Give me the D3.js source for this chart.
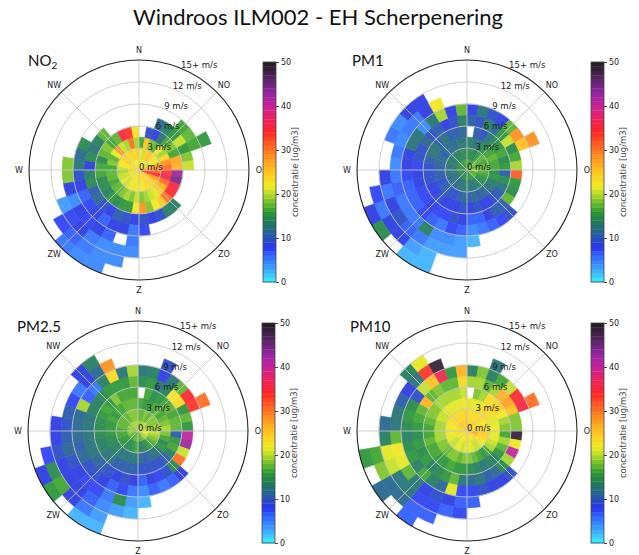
<!DOCTYPE html>
<html>
<head>
<meta charset="utf-8">
<script src="https://cdn.jsdelivr.net/npm/d3@7"></script>
<style>
  body { margin: 0; background: #fff; }
  text { font-family: "DejaVu Sans", sans-serif; fill: #222; }
</style>
</head>
<body>
<svg id="chart" width="639" height="555"></svg>
<script>
// Wind speed rings and labels
const speedTicks = [0, 3, 6, 9, 12, 15];
const speedTickLabels = ["0 m/s", "3 m/s", "6 m/s", "9 m/s", "12 m/s", "15+ m/s"];
// Compass labels (Dutch), clockwise from north every 45 degrees
const directionLabels = ["N", "NO", "O", "ZO", "Z", "ZW", "W", "NW"];
// Colour bar ticks (ug/m3)
const colorTicks = [0, 10, 20, 30, 40, 50];

const binWidth = 1.5;     // m/s per radial bin
const sectorWidth = 10;   // degrees per wind-direction sector

// Mean concentration per sector (36 x 10 deg, from north, clockwise) and speed bin (1.5 m/s)
const no2 = [
  [23, 22, 16, null],
  [22, 20, 25, 9],
  [21, 24, 18, 8, 11],
  [22, 25, 17, 12, 13],
  [21, 23, 22, 16, 15, 16],
  [20, 22, 19, 18, 20, 17],
  [23, 21, 23, 16, 15, 16, 15],
  [25, 26, 28, 27, 18],
  [26, 28, 30, 26, 20],
  [28, 30, 33, 42],
  [35, 34, 36, 44],
  [30, 28, 30, 35],
  [23, 25, 26, 34],
  [23, 23, 24, 30, 13],
  [23, 23, 21, 24, 13],
  [23, 23, 20, 22, 9],
  [23, 22, 19, 18, 8],
  [24, 22, 18, 28, 9, 7],
  [23, 22, 20, 22, 8, 5, 5, 4],
  [22, 21, 18, 15, 9, 8, null, 4, 4],
  [23, 22, 19, 15, 10, 8, 6, 4, 4, 4],
  [22, 21, 18, 14, 8, 6, 8, 5, 5, 4],
  [22, 20, 17, 15, 9, 8, 7, 8, 6, 5],
  [21, 21, 17, 13, 11, 7, 8, 7, 7],
  [21, 20, 16, 14, 10, 6, 4, 3],
  [22, 20, 17, 14, 14, 8, 8],
  [23, 19, 17, 16, 13, 9, 18],
  [23, 20, 16, 16, 8, 12, 18],
  [23, 22, 18, 14, 14, 11],
  [23, 22, 17, 17, 12, 14],
  [23, 24, 21, 18, 13],
  [22, 24, 28, 16, 17],
  [22, 23, 20, 17],
  [22, 24, 19, 35],
  [22, 23, 30, 33],
  [22, 24, 19, 22]
];

const pm1 = [
  [15, 14, 13, null, 10, 8],
  [16, 14, 12, 10, 9, 12],
  [15, 13, 12, 9, 13, 9],
  [16, 15, 14, 12, 11, 8],
  [17, 16, 15, 14, 15, 17],
  [18, 17, 16, 15, 20, 28],
  [17, 16, 17, 16, 14, 25, 28],
  [16, 17, 16, 14, 16],
  [18, 17, 16, 15, 19],
  [20, 17, 14, 10, 31],
  [17, 16, 15, 14, 15],
  [16, 15, 13, 12, 14],
  [17, 14, 12, 10, 17],
  [16, 14, 11, 9, 10, 9],
  [15, 13, 11, 8, 10, 7],
  [15, 12, 10, 8, 8, 6],
  [14, 12, 11, 9, 6, 5],
  [15, 12, 10, 8, 6, 4, 2],
  [15, 13, 11, 9, 8, 6, 3, 3],
  [14, 12, 10, 8, 9, 7, 4, 3],
  [14, 12, 9, 8, 7, 5, 4, 3, 2, 2],
  [13, 11, 9, 8, 7, 6, 13, 5, 3, 2],
  [13, 11, 10, 9, 8, 7, 5, 6, 8, null],
  [14, 12, 10, 8, 7, 6, 5, 9, 8, 14],
  [13, 11, 9, 8, 7, 6, 5, 8, 5, 8],
  [14, 12, 10, 9, 8, 6, 6, 5, 7],
  [14, 12, 10, 9, 8, 7, 5, 8],
  [15, 12, 10, 9, 7, 8, 4],
  [14, 12, 11, 10, 9, 8, 5],
  [15, 13, 11, 12, 9, 12, 4, 5],
  [14, 12, 10, 12, 11, 12, 5, 4],
  [15, 13, 11, 10, 9, 4, 5, 8],
  [15, 13, 11, 12, 10, 12, 8, 8],
  [15, 13, 11, 10, 8, 19, 22],
  [16, 14, 12, 10, 9, 8],
  [15, 14, 12, 11, 13, 17]
];

const pm25 = [
  [18, 17, 16, null, 14, 12],
  [18, 17, 15, 16, 15, 13],
  [19, 18, 15, 14, 12, 8, 9],
  [19, 17, 16, 15, 13, 12],
  [20, 18, 17, 16, 22, 17],
  [19, 18, 16, 17, 23, 34],
  [19, 18, 17, 16, 15, 33, 30],
  [20, 19, 18, 17, 17],
  [19, 18, 19, 17, 15],
  [22, 20, 18, 10, 40],
  [21, 19, 16, 15, 42],
  [20, 18, 14, 16, 20],
  [19, 17, 15, 13, 30],
  [19, 16, 12, 10, 14, 8],
  [18, 15, 12, 9, 9, 6],
  [17, 14, 11, 9, 7, 5],
  [17, 13, 10, 9, 8, 6],
  [16, 13, 11, 9, 6, 4, 2],
  [18, 16, 12, 10, 8, 5, 3, 2],
  [17, 15, 12, 10, 9, 7, 14, 3],
  [17, 14, 12, 10, 8, 6, 5, 4, 3, 2],
  [16, 14, 12, 10, 9, 8, 7, 6, 5, 2],
  [16, 14, 13, 12, 10, 9, 7, 8, 8, null],
  [17, 15, 13, 12, 11, 9, 8, 8, 16, 15],
  [17, 15, 14, 13, 12, 11, 9, 8, 14, 8],
  [18, 16, 14, 13, 12, 10, 11, 9, 7],
  [18, 16, 15, 14, 12, 11, 10, 8],
  [18, 16, 15, 14, 12, 11, 9, 8],
  [18, 17, 15, 14, 12, 11, 10],
  [19, 17, 16, 15, 13, 19, 7],
  [18, 17, 15, 16, 13, 6, 5],
  [18, 17, 16, 15, 14, 5, 8, 8],
  [19, 17, 16, 18, 15, 13, 11, 13],
  [19, 18, 17, 16, 15, 23, 28],
  [19, 18, 17, 16, 15, 12],
  [19, 18, 17, 16, 17, 19]
];

const pm10 = [
  [24, 23, 21, null, 19, 13],
  [24, 23, 21, 18, 19, 18],
  [24, 23, 21, 19, 17, 13, 12],
  [24, 23, 23, 23, 19, 16],
  [24, 23, 23, 23, 26, 20],
  [23, 23, 23, 24, 27, 34],
  [23, 22, 21, 22, 25, 35, 30],
  [24, 23, 21, 19, 18],
  [24, 22, 22, 18, 18],
  [26, 24, 21, 16, 48],
  [27, 24, 21, 19, 22],
  [25, 23, 20, 17, 40],
  [24, 22, 19, 15, 19],
  [23, 21, 16, 13, 14, 9],
  [22, 20, 15, 13, 11, 8],
  [22, 20, 16, 12, 10, 8],
  [23, 21, 17, 13, 12, 9],
  [23, 21, 18, 14, 11, 7, 6],
  [23, 21, 18, 15, 12, 7, 6, 7],
  [22, 20, 17, 15, 17, 21, 8, 6],
  [22, 21, 18, 16, 15, 11, 9, 7, 6],
  [22, 21, 18, 15, 14, 13, 8, 7, 6, 6],
  [21, 20, 17, 15, 13, 16, 12, 12, 11, null],
  [22, 20, 18, 16, 15, 13, 17, 12, 11, 11],
  [22, 21, 18, 16, 14, 15, 21, 20, 18],
  [23, 21, 19, 17, 15, 14, 22, 21, 16, 15],
  [23, 22, 19, 16, 14, 13, 17, 13],
  [23, 21, 19, 16, 15, 14, 12, 11],
  [23, 22, 19, 17, 16, 15, 12],
  [24, 22, 20, 18, 17, 14, 10],
  [24, 23, 20, 18, 26, 9, 8],
  [24, 23, 21, 19, 17, 20, 12, 13],
  [25, 23, 21, 19, 18, 25, 33, 21],
  [24, 23, 21, 19, 17, 36, 48],
  [24, 23, 21, 19, 17, 15],
  [25, 24, 22, 20, 23, 26]
];

const svg = d3.select("#chart");

svg.append("text")
  .attr("x", 318).attr("y", 25)
  .attr("text-anchor", "middle")
  .style("font-family", "Lato, 'Open Sans', sans-serif")
  .style("font-size", "22px")
  .style("fill", "#111")
  .text("Windroos ILM002 - EH Scherpenering");

const R = 110;
const rScale = d3.scaleLinear().domain([0, 15]).range([0, R]);

// Banded colour scale: cyan -> blue -> green -> yellow -> red -> purple -> black
const colorStops = [
  [0, "#35f2ff"], [3, "#3ca4ff"], [6, "#2e68ff"], [8, "#2a30f0"], [10, "#2652b8"],
  [12, "#226a80"], [14, "#1f8050"], [16, "#2c9a2e"], [18, "#6abc2c"], [20, "#b6dc28"],
  [22, "#f2ec1e"], [25, "#ffc61e"], [28, "#ff981e"], [31, "#ff6220"], [34, "#ff2626"],
  [37, "#ee2258"], [40, "#c8229a"], [43, "#9424a4"], [46, "#5a2466"], [50, "#1c1c1c"]
];
const cmap = d3.scaleLinear()
  .domain(colorStops.map(d => d[0]))
  .range(colorStops.map(d => d[1]))
  .interpolate(d3.interpolateRgb)
  .clamp(true);
const color = v => cmap(Math.max(0, Math.min(49, Math.floor(v))) + 0.5);

const panels = [
  { name: "NO", sub: "2", data: no2,  cx: 139, cy: 170, tx: 28, ty: 66 },
  { name: "PM1",          data: pm1,  cx: 467, cy: 170, tx: 352, ty: 66 },
  { name: "PM2.5",        data: pm25, cx: 138, cy: 431, tx: 17, ty: 332 },
  { name: "PM10",         data: pm10, cx: 467, cy: 431, tx: 350, ty: 332 }
];

const toRad = deg => deg * Math.PI / 180;

panels.forEach(p => {
  const g = svg.append("g").attr("transform", `translate(${p.cx},${p.cy})`);

  // cells
  const cells = [];
  p.data.forEach((row, s) => {
    row.forEach((v, j) => {
      if (v !== null && v !== undefined) cells.push({ s, j, v });
    });
  });
  const arc = d3.arc()
    .innerRadius(d => rScale(d.j * binWidth))
    .outerRadius(d => rScale((d.j + 1) * binWidth))
    .startAngle(d => toRad(d.s * sectorWidth))
    .endAngle(d => toRad((d.s + 1) * sectorWidth));
  g.append("g").selectAll("path").data(cells).join("path")
    .attr("d", arc)
    .attr("fill", d => color(d.v))
    .attr("stroke", d => color(d.v))
    .attr("stroke-width", 0.4)
    .attr("opacity", 0.92);

  // grid
  const grid = g.append("g").attr("fill", "none").attr("stroke", "#c8c8c8").attr("stroke-width", 1).attr("opacity", 0.85);
  grid.selectAll("circle").data(speedTicks.filter(t => t > 0 && t < 15)).join("circle")
    .attr("r", d => rScale(d));
  grid.selectAll("line").data(d3.range(8)).join("line")
    .attr("x1", 0).attr("y1", 0)
    .attr("x2", i => R * Math.sin(toRad(i * 45)))
    .attr("y2", i => -R * Math.cos(toRad(i * 45)));
  g.append("circle").attr("r", R).attr("fill", "none").attr("stroke", "#222").attr("stroke-width", 1.1);

  // speed labels along 22.5 deg
  g.append("g").selectAll("text").data(speedTicks).join("text")
    .attr("x", d => rScale(d) * Math.sin(toRad(22.5)))
    .attr("y", d => -rScale(d) * Math.cos(toRad(22.5)))
    .style("font-size", "8.5px")
    .text((d, i) => speedTickLabels[i]);

  // compass labels
  g.append("g").selectAll("text").data(directionLabels).join("text")
    .attr("x", (d, i) => 120 * Math.sin(toRad(i * 45)))
    .attr("y", (d, i) => -120 * Math.cos(toRad(i * 45)))
    .attr("text-anchor", "middle")
    .attr("dominant-baseline", "central")
    .style("font-size", "8px")
    .text(d => d);

  // panel title
  const t = svg.append("text").attr("x", p.tx).attr("y", p.ty)
    .style("font-family", "Lato, 'Open Sans', sans-serif")
    .style("font-size", "15px")
    .style("fill", "#111")
    .text(p.name);
  if (p.sub) t.append("tspan").attr("dy", 3).style("font-size", "10px").text(p.sub);

  // colour bar
  const cbX = p.cx + 124, cbW = 13;
  const cbScale = d3.scaleLinear().domain([0, 50]).range([p.cy + 112, p.cy - 108]);
  const cb = svg.append("g");
  cb.selectAll("rect").data(d3.range(50)).join("rect")
    .attr("x", cbX).attr("width", cbW)
    .attr("y", k => cbScale(k + 1))
    .attr("height", k => cbScale(k) - cbScale(k + 1) + 0.3)
    .attr("fill", k => color(k));
  cb.append("rect").attr("x", cbX).attr("y", cbScale(50)).attr("width", cbW)
    .attr("height", cbScale(0) - cbScale(50))
    .attr("fill", "none").attr("stroke", "#444").attr("stroke-width", 0.8);
  const axis = d3.axisRight(cbScale).tickValues(colorTicks).tickSize(3).tickPadding(2);
  const ax = cb.append("g").attr("transform", `translate(${cbX + cbW},0)`).call(axis);
  ax.select(".domain").remove();
  ax.selectAll("line").attr("stroke", "#444");
  ax.selectAll("text").style("font-size", "8px").style("font-family", "DejaVu Sans, sans-serif").attr("fill", "#333");
  cb.append("text")
    .attr("transform", `translate(${cbX + cbW + 22},${(cbScale(0) + cbScale(50)) / 2}) rotate(-90)`)
    .attr("text-anchor", "middle")
    .style("font-size", "8.5px")
    .style("fill", "#444")
    .text("concentratie [ug/m3]");
});
</script>
</body>
</html>
